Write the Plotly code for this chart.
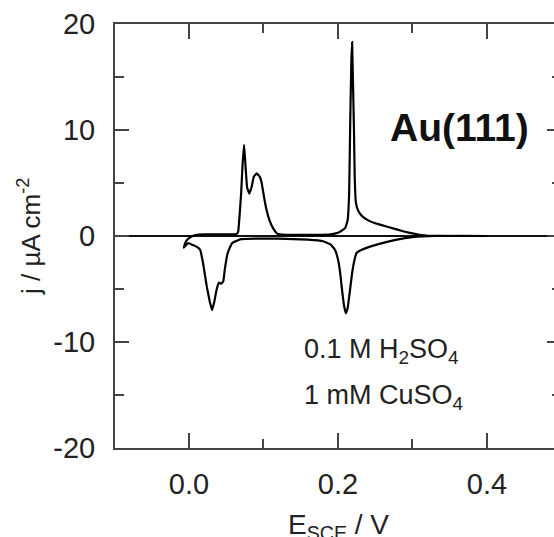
import plotly.graph_objects as go

# Cyclic voltammogram, Au(111) in 0.1 M H2SO4 + 1 mM CuSO4
# positive-going sweep
E_anodic = [-0.007, -0.004, 0.0, 0.005, 0.010, 0.020, 0.030, 0.040, 0.050, 0.060, 0.064, 0.066, 0.068, 0.070,
            0.072, 0.074, 0.076, 0.078, 0.081, 0.084, 0.087, 0.091, 0.095, 0.0976, 0.1007, 0.104, 0.108,
            0.113, 0.118, 0.122, 0.130, 0.150, 0.170, 0.190, 0.200, 0.205, 0.210, 0.213, 0.215, 0.2165, 0.218,
            0.219, 0.220, 0.2215, 0.2225, 0.224, 0.227, 0.232, 0.240, 0.250, 0.260, 0.270, 0.280, 0.290,
            0.300, 0.310, 0.320, 0.350, 0.400]
j_anodic = [-1.1, -0.5, -0.2, 0.0, 0.1, 0.15, 0.15, 0.15, 0.15, 0.15, 0.2, 0.4, 2.0, 4.0,
            6.8, 8.6, 6.5, 4.6, 4.0, 4.6, 5.6, 5.9, 5.6, 5.0, 3.7, 2.5, 1.5,
            0.72, 0.25, 0.15, 0.1, 0.1, 0.1, 0.15, 0.3, 0.5, 0.8, 1.5, 4.0, 11.0, 16.5,
            18.3, 15.0, 10.0, 5.5, 3.2, 2.4, 1.9, 1.5, 1.2, 1.0, 0.8, 0.6, 0.4,
            0.25, 0.1, 0.03, 0.0, 0.0]

# negative-going sweep
E_cathodic = [0.400, 0.330, 0.300, 0.290, 0.266, 0.243, 0.232, 0.225, 0.222, 0.219, 0.216, 0.213,
              0.2105, 0.208, 0.205, 0.203, 0.200, 0.196, 0.190, 0.180, 0.160, 0.120, 0.090, 0.070,
              0.066, 0.058, 0.052, 0.048, 0.046, 0.043, 0.040, 0.037, 0.034, 0.031, 0.028, 0.024,
              0.019, 0.015, 0.010, 0.005, -0.001, -0.007]
j_cathodic = [0.0, 0.0, -0.1, -0.2, -0.55, -1.0, -1.3, -1.6, -2.3, -3.5, -5.2, -6.8,
              -7.3, -6.5, -4.8, -3.5, -2.2, -1.3, -0.8, -0.5, -0.35, -0.25, -0.25, -0.3,
              -0.4, -0.66, -1.6, -3.2, -4.3, -4.5, -4.4, -5.1, -6.2, -7.0, -6.2, -4.8,
              -2.6, -1.3, -1.0, -0.85, -0.66, -1.1]

x_ticks = [0.0, 0.2, 0.4]
x_ticklabels = ["0.0", "0.2", "0.4"]
y_ticks = [-20, -10, 0, 10, 20]
y_ticklabels = ["-20", "-10", "0", "10", "20"]

x_range = [-0.0993, 0.4900]
y_range = [-20, 20]

FONT = "Liberation Sans, Arial, Helvetica, sans-serif"
TXT = "#222222"
AX = "#444444"

fig = go.Figure()
fig.add_trace(go.Scatter(x=E_anodic + E_cathodic, y=j_anodic + j_cathodic, mode="lines",
                         line=dict(color="black", width=2.2, shape="spline", smoothing=0.3),
                         showlegend=False, hoverinfo="skip"))
# carrier for right-side ticks
fig.add_trace(go.Scatter(x=[], y=[], yaxis="y2", showlegend=False, hoverinfo="skip"))

fig.update_layout(
    width=554, height=537,
    margin=dict(l=115, r=0, t=24, b=89),
    plot_bgcolor="white", paper_bgcolor="white",
    font=dict(family=FONT, color=TXT),
    xaxis=dict(range=x_range, tickvals=x_ticks, ticktext=x_ticklabels,
               ticks="inside", ticklen=15, tickwidth=2, tickcolor=AX,
               showline=True, linecolor=AX, linewidth=2, mirror="ticks",
               showgrid=False, zeroline=False,
               tickfont=dict(size=29, color=TXT), ticklabelstandoff=9,
               minor=dict(tickvals=[0.1, 0.3], ticks="inside", ticklen=9, tickwidth=2, tickcolor=AX)),
    yaxis=dict(range=y_range, tickvals=y_ticks, ticktext=y_ticklabels,
               ticks="inside", ticklen=14, tickwidth=2, tickcolor=AX,
               showline=True, linecolor=AX, linewidth=2, mirror=False,
               showgrid=False, zeroline=True, zerolinecolor="#111111", zerolinewidth=1.8,
               tickfont=dict(size=29, color=TXT), ticklabelstandoff=12,
               minor=dict(tickvals=[-15, -5, 5, 15], ticks="inside", ticklen=9, tickwidth=2, tickcolor=AX)),
    yaxis2=dict(range=y_range, overlaying="y", side="right", anchor="x",
                tickvals=y_ticks, ticks="inside", ticklen=7, tickwidth=2, tickcolor=AX,
                showticklabels=False, showline=False, showgrid=False, zeroline=False,
                minor=dict(tickvals=[-15, -5, 5, 15], ticks="inside", ticklen=2, tickwidth=2, tickcolor=AX)),
)

# axis titles
fig.add_annotation(text="j / µA cm<sup>-2</sup>", xref="paper", yref="paper",
                   x=-0.196, y=0.5, xanchor="center", yanchor="middle", textangle=-90,
                   showarrow=False, font=dict(size=26, color=TXT, family=FONT))
fig.add_annotation(text="E<sub>SCE</sub> / V", xref="paper", yref="paper",
                   x=0.508, y=-0.139, xanchor="center", yanchor="top",
                   showarrow=False, font=dict(size=28, color=TXT, family=FONT))

# labels inside the plot
fig.add_annotation(text="<b>Au(111)</b>", xref="x", yref="y", x=0.3625, y=10.2,
                   xanchor="center", yanchor="middle", showarrow=False,
                   font=dict(size=39, color="#111111", family=FONT))
fig.add_annotation(text="0.1 M H<sub>2</sub>SO<sub>4</sub>", xref="x", yref="y", x=0.1517, y=-10.85,
                   xanchor="left", yanchor="middle", showarrow=False,
                   font=dict(size=27, color=TXT, family=FONT))
fig.add_annotation(text="1 mM CuSO<sub>4</sub>", xref="x", yref="y", x=0.1517, y=-15.2,
                   xanchor="left", yanchor="middle", showarrow=False,
                   font=dict(size=27, color=TXT, family=FONT))

fig.write_html("out.html")
